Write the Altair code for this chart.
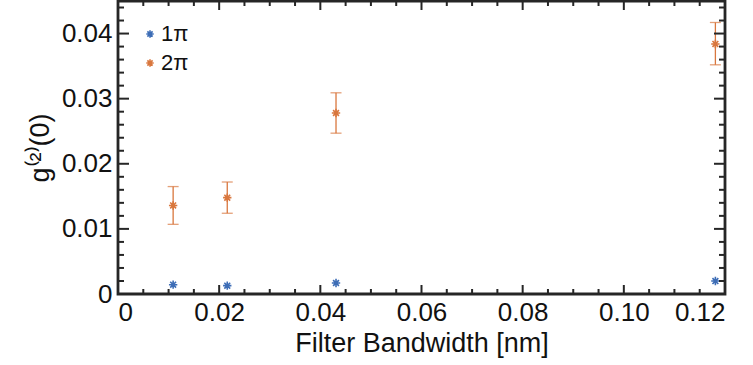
import altair as alt
import pandas as pd

# ---- data ----
series = ["1π", "2π"]
colors = ["#3D6DB6", "#D9773E"]
bandwidth = [0.0109, 0.0216, 0.0431, 0.1181]
g2_1pi = [0.00143, 0.00128, 0.00169, 0.00199]
g2_2pi = [0.0136, 0.0148, 0.0278, 0.0384]
g2_2pi_lo = [0.0107, 0.0124, 0.0247, 0.0352]
g2_2pi_hi = [0.0165, 0.0172, 0.0309, 0.0417]

x_major = [0, 0.02, 0.04, 0.06, 0.08, 0.10, 0.12]
x_minor = [0.005, 0.01, 0.015, 0.025, 0.03, 0.035, 0.045, 0.05, 0.055,
           0.065, 0.07, 0.075, 0.085, 0.09, 0.095, 0.105, 0.11, 0.115]
y_major = [0, 0.01, 0.02, 0.03, 0.04]
y_minor = [0.002, 0.004, 0.006, 0.008, 0.012, 0.014, 0.016, 0.018,
           0.022, 0.024, 0.026, 0.028, 0.032, 0.034, 0.036, 0.038,
           0.042, 0.044]

W, H = 607, 293
FONT = "Liberation Sans"
INK = "#262626"
ASTERISK = "M-1,0L1,0M0,-1L0,1M-0.7,-0.7L0.7,0.7M-0.7,0.7L0.7,-0.7"

pts = pd.DataFrame({
    "x": bandwidth * 2,
    "g2": g2_1pi + g2_2pi,
    "series": [series[0]] * 4 + [series[1]] * 4,
})
err = pd.DataFrame({"x": bandwidth, "lo": g2_2pi_lo, "hi": g2_2pi_hi})

xscale = alt.Scale(domain=[0, 0.12], nice=False, zero=False)
yscale = alt.Scale(domain=[0, 0.045], nice=False, zero=False)
lbl = "datum.value == 0 ? '0' : format(datum.value, '.2f')"

xaxis = alt.Axis(values=x_major, labelExpr=lbl, title="Filter Bandwidth [nm]",
                 labelPadding=5, titlePadding=5)
yaxis = alt.Axis(values=y_major, labelExpr=lbl, title="g⁽²⁾(0)",
                 labelPadding=6, titlePadding=7)


def X(field="x"):
    return alt.X(f"{field}:Q", scale=xscale, axis=xaxis)


def Y(field="g2"):
    return alt.Y(f"{field}:Q", scale=yscale, axis=yaxis)


points = alt.Chart(pts).mark_point(
    shape=ASTERISK, filled=False, strokeWidth=1.6, size=70, opacity=1
).encode(
    x=X(), y=Y(),
    color=alt.Color("series:N", scale=alt.Scale(domain=series, range=colors),
                    legend=alt.Legend(title=None, orient="none", legendX=21, legendY=22,
                                      symbolType=ASTERISK, symbolSize=55,
                                      symbolStrokeWidth=1.6, labelFontSize=22,
                                      labelFont=FONT, labelColor="#111",
                                      labelOffset=0, rowPadding=7, padding=0)),
)

bars = alt.Chart(err).mark_rule(color=colors[1], strokeWidth=1.3).encode(
    x=X(), y=Y("lo"), y2="hi:Q",
)
caps_lo = alt.Chart(err).mark_tick(color=colors[1], orient="horizontal",
                                   size=11, thickness=1.3).encode(x=X(), y=Y("lo"))
caps_hi = alt.Chart(err).mark_tick(color=colors[1], orient="horizontal",
                                   size=11, thickness=1.3).encode(x=X(), y=Y("hi"))


def xticks(vals, length):
    d = pd.DataFrame({"x": vals})
    bottom = alt.Chart(d).mark_rule(color=INK, strokeWidth=2).encode(
        x=X(), y=alt.value(H), y2=alt.value(H - length))
    top = alt.Chart(d).mark_rule(color=INK, strokeWidth=2).encode(
        x=X(), y=alt.value(0), y2=alt.value(length))
    return [bottom, top]


def yticks(vals, length):
    d = pd.DataFrame({"g2": vals})
    left = alt.Chart(d).mark_rule(color=INK, strokeWidth=2).encode(
        y=Y(), x=alt.value(0), x2=alt.value(length))
    right = alt.Chart(d).mark_rule(color=INK, strokeWidth=2).encode(
        y=Y(), x=alt.value(W), x2=alt.value(W - length))
    return [left, right]


layers = ([points, bars, caps_lo, caps_hi] + xticks(x_major, 9) + xticks(x_minor, 5) +
          yticks(y_major, 11) + yticks(y_minor, 6))

chart = alt.layer(*layers).properties(
    width=W, height=H, autosize=alt.AutoSizeParams(type="none"),
    padding={"left": 118, "top": 1, "right": 28, "bottom": 71},
).configure_view(
    stroke=INK, strokeWidth=2.8
).configure_axis(
    domain=False, ticks=False, grid=False,
    labelFont=FONT, labelFontSize=26, labelColor="#111",
    titleFont=FONT, titleFontSize=27, titleFontWeight="normal", titleColor="#111",
)

chart.save("out.html", embed_options={"renderer": "svg", "actions": False})
